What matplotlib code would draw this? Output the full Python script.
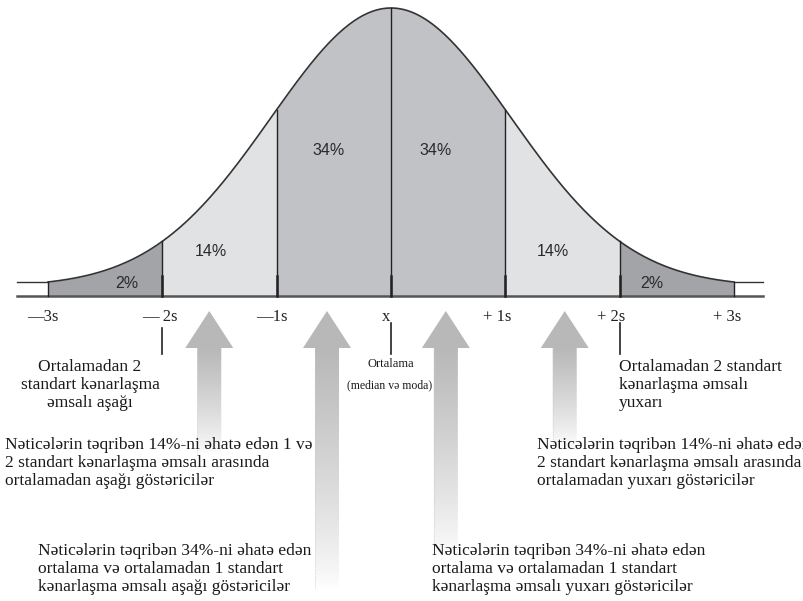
import numpy as np
import matplotlib
matplotlib.use("Agg")
import matplotlib.pyplot as plt
from matplotlib.colors import LinearSegmentedColormap
from matplotlib.patches import Polygon

# Sərhədlər (standart kənarlaşma vahidi ilə) və sahələrin faizləri
BOUNDS = [-3, -2, -1, 0, 1, 2, 3]
PERCENTS = ["2%", "14%", "34%", "34%", "14%", "2%"]
REGION_COLORS = ["#a2a4a7", "#e1e2e4", "#c1c2c5", "#c1c2c5", "#e1e2e4", "#a2a4a7"]
PCT_X = [-2.31, -1.58, -0.55, 0.39, 1.42, 2.28]
PCT_Y = [-0.005, 0.11, 0.48, 0.48, 0.11, -0.005]

TICK_POS = [-3, -2, -1, 0, 1, 2, 3]
TICK_LABELS = ["\u20143s", "\u2014 2s", "\u20141s", "x", "+ 1s", "+ 2s", "+ 3s"]
TICK_X = [-3.05, -2.02, -1.04, -0.04, 0.93, 1.93, 2.94]

SIGMA = 1.05  # əyrinin eni (şəkildən oxunub)

# oxlar: mərkəz və aşağı uc
ARROW_X = [-1.59, -0.56, 0.48, 1.52]
ARROW_BOTTOM = [-0.63, -1.12, -1.0, -0.60]

# piksel -> data (yalnız yazıların yeri üçün)
X0, SX, Y0, SY = 391.0, 114.3, 282.0, 274.0


def at(px, py):
    return (px - X0) / SX, (Y0 - py) / SY


fig = plt.figure(figsize=(8.04, 6.01), dpi=100)
ax = fig.add_axes([0, 0, 1, 1])
ax.axis("off")
xlim = at(0, 0)[0], at(804, 0)[0]
ylim = at(0, 601)[1], at(0, 0)[1]

base = at(0, 296)[1]
left_end = at(17, 0)[0]
right_end = at(763, 0)[0]


def curve(x):
    g = np.exp(-x ** 2 / (2 * SIGMA ** 2))
    g3 = np.exp(-9 / (2 * SIGMA ** 2))
    return (g - g3) / (1 - g3)


# sahələr
for i in range(len(PERCENTS)):
    xs = np.linspace(BOUNDS[i], BOUNDS[i + 1], 100)
    ax.fill_between(xs, curve(xs), base, color=REGION_COLORS[i], lw=0, zorder=1)
    ax.text(PCT_X[i], PCT_Y[i], PERCENTS[i], ha="center", va="center",
            fontsize=11.5, family="Liberation Sans", color="#2a2a2a", zorder=5)

xs = np.linspace(BOUNDS[0], BOUNDS[-1], 400)
ax.plot(xs, curve(xs), color="#333333", lw=1.2, zorder=3)
ax.plot([left_end, BOUNDS[0]], [0, 0], color="#333333", lw=1.0, zorder=3)
ax.plot([BOUNDS[-1], right_end], [0, 0], color="#333333", lw=1.0, zorder=3)
ax.plot([left_end, right_end], [base, base], color="#555555", lw=1.8, zorder=3)

for b in BOUNDS:
    ax.plot([b, b], [curve(np.array(b)), base], color="#222222", lw=1.0, zorder=3)
    if abs(b) < 3:
        ax.plot([b, b], [at(0, 276)[1], base], color="#222222", lw=1.8, zorder=3)

# ox altı yazılar
for x, lab in zip(TICK_X, TICK_LABELS):
    ax.text(x, at(0, 317)[1], lab, ha="center", va="center", fontsize=12,
            family=["Liberation Serif", "DejaVu Serif"], color="#222222")

# kiçik xətlər
for b, top in [(-2, 328), (0, 323), (2, 323)]:
    ax.plot([b, b], [at(0, top)[1], at(0, 354)[1]], color="#222222", lw=1.2)

# qradiyentli oxlar
cmap = LinearSegmentedColormap.from_list("arr", ["#ffffff", "#b8b8b8"])
tip = at(0, 311)[1]
head = at(0, 348)[1]
hw = 24 / SX
sw = 12 / SX
for cx, bot in zip(ARROW_X, ARROW_BOTTOM):
    pts = [(cx, tip), (cx + hw, head), (cx + sw, head), (cx + sw, bot),
           (cx - sw, bot), (cx - sw, head), (cx - hw, head)]
    poly = Polygon(pts, closed=True, facecolor="none", edgecolor="none")
    ax.add_patch(poly)
    yy = np.linspace(bot, tip, 300)
    vals = np.clip((yy - bot) / (head - bot), 0, 1) ** 0.8
    img = ax.imshow(vals[:, None], cmap=cmap, vmin=0, vmax=1, aspect="auto",
                    origin="lower", extent=[cx - hw, cx + hw, bot, tip], zorder=0.5)
    img.set_clip_path(poly)
    ax.plot([cx - sw, cx - sw], [head, bot], color="#c8c8c8", lw=0.6, ls=":", zorder=0.6)

serif = ["Liberation Serif", "DejaVu Serif"]
tc = "#1a1a1a"
fs = 12.5
ls = 1.18

ax.text(*at(391, 364), "Ortalama", ha="center", va="center", fontsize=9,
        family=serif, color=tc)
ax.text(*at(390, 385), "(median və moda)", ha="center", va="center", fontsize=8.5,
        family=serif, color=tc)

ax.text(*at(90, 359), "Ortalamadan 2\nstandart kənarlaşma\nəmsalı aşağı",
        ha="center", va="top", fontsize=fs, family=serif, color=tc, linespacing=ls)
ax.text(*at(619, 359), "Ortalamadan 2 standart\nkənarlaşma əmsalı\nyuxarı",
        ha="left", va="top", fontsize=fs, family=serif, color=tc, linespacing=ls)

ax.text(*at(5, 437), "Nəticələrin təqribən 14%-ni əhatə edən 1 və\n"
        "2 standart kənarlaşma əmsalı arasında\nortalamadan aşağı göstəricilər",
        ha="left", va="top", fontsize=fs, family=serif, color=tc, linespacing=ls)
ax.text(*at(537, 437), "Nəticələrin təqribən 14%-ni əhatə edən 1 və\n"
        "2 standart kənarlaşma əmsalı arasında\nortalamadan yuxarı göstəricilər",
        ha="left", va="top", fontsize=fs, family=serif, color=tc, linespacing=ls)

ax.text(*at(38, 543), "Nəticələrin təqribən 34%-ni əhatə edən\n"
        "ortalama və ortalamadan 1 standart\nkənarlaşma əmsalı aşağı göstəricilər",
        ha="left", va="top", fontsize=fs, family=serif, color=tc, linespacing=ls)
ax.text(*at(432, 543), "Nəticələrin təqribən 34%-ni əhatə edən\n"
        "ortalama və ortalamadan 1 standart\nkənarlaşma əmsalı yuxarı göstəricilər",
        ha="left", va="top", fontsize=fs, family=serif, color=tc, linespacing=ls)

ax.set_xlim(*xlim)
ax.set_ylim(*ylim)

fig.savefig("out.png", dpi=100, facecolor="white")
